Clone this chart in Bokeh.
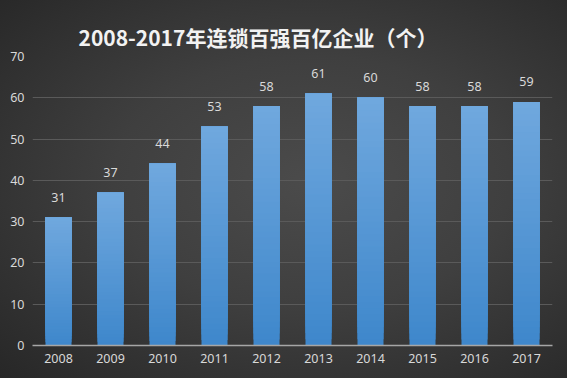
from bokeh.plotting import figure
from bokeh.models import ColumnDataSource, FixedTicker, Range1d
from bokeh.core.properties import value
from bokeh.embed import file_html
from bokeh.resources import INLINE

# ---- data ----
years = ["2008", "2009", "2010", "2011", "2012", "2013", "2014", "2015", "2016", "2017"]
counts = [31, 37, 44, 53, 58, 61, 60, 58, 58, 59]
y_ticks = [0, 10, 20, 30, 40, 50, 60, 70]
title_text = "2008-2017年连锁百强百亿企业（个）"

TOP_COLOR = (0x70, 0xA8, 0xDE)
BOTTOM_COLOR = (0x3E, 0x87, 0xCB)
N_SEG = 40

p = figure(
    x_range=years,
    y_range=Range1d(0, 70),
    width=567, height=378,
    min_border_left=32, min_border_right=15,
    min_border_top=56, min_border_bottom=33,
    output_backend="svg", toolbar_location=None,
    title=title_text,
)
p.styles = {
    "background": "radial-gradient(ellipse farthest-corner at 55% 48%, #4b4b4b 0%, #3f3f3f 45%, #272727 100%)",
}
p.background_fill_alpha = 0
p.border_fill_alpha = 0
p.outline_line_color = None

# title
p.title.text_font = "Noto Sans CJK SC"
p.title.text_font_size = "21px"
p.title.text_font_style = "bold"
p.title.text_color = "#f2f2f2"
p.title.align = "left"
p.title.offset = 46

# gradient bars (stacked overlapping segments)
def lerp(a, b, t):
    return "#%02x%02x%02x" % tuple(int(round(a[k] + (b[k] - a[k]) * t)) for k in range(3))

for i in range(N_SEG):
    t = (i + 0.5) / N_SEG
    src = ColumnDataSource(dict(
        x=years,
        bottom=[v * i / N_SEG for v in counts],
        top=counts,
    ))
    p.vbar(x="x", bottom="bottom", top="top", width=0.5, source=src,
           fill_color=lerp(BOTTOM_COLOR, TOP_COLOR, t), line_color=None)

# value labels
lab = ColumnDataSource(dict(x=years, y=counts, t=[str(v) for v in counts]))
p.text(x="x", y="y", text="t", source=lab, text_align="center",
       text_baseline="alphabetic", y_offset=-20,
       text_font=value("Noto Sans"), text_font_size="12.5px", text_color="#d9d9d9")

# grid
p.xgrid.grid_line_color = None
p.ygrid.grid_line_color = "#5a5a5a"
p.ygrid.grid_line_width = 1

# axes
p.yaxis.ticker = FixedTicker(ticks=y_ticks)
p.yaxis.axis_line_color = None
p.yaxis.major_tick_line_color = None
p.yaxis.minor_tick_line_color = None
p.yaxis.major_tick_out = 0
p.yaxis.major_tick_in = 0
p.yaxis.major_label_standoff = 8
p.yaxis.major_label_text_color = "#d9d9d9"
p.yaxis.major_label_text_font = "Noto Sans"
p.yaxis.major_label_text_font_size = "12.5px"

p.xaxis.axis_line_color = "#a6a6a6"
p.xaxis.axis_line_width = 1.5
p.xaxis.major_tick_line_color = None
p.xaxis.minor_tick_line_color = None
p.xaxis.major_tick_out = 0
p.xaxis.major_tick_in = 0
p.xaxis.major_label_standoff = 8
p.xaxis.major_label_text_color = "#d9d9d9"
p.xaxis.major_label_text_font = "Noto Sans"
p.xaxis.major_label_text_font_size = "12.5px"

p.x_range.range_padding = 0

open("out.html", "w").write(file_html(p, INLINE))
